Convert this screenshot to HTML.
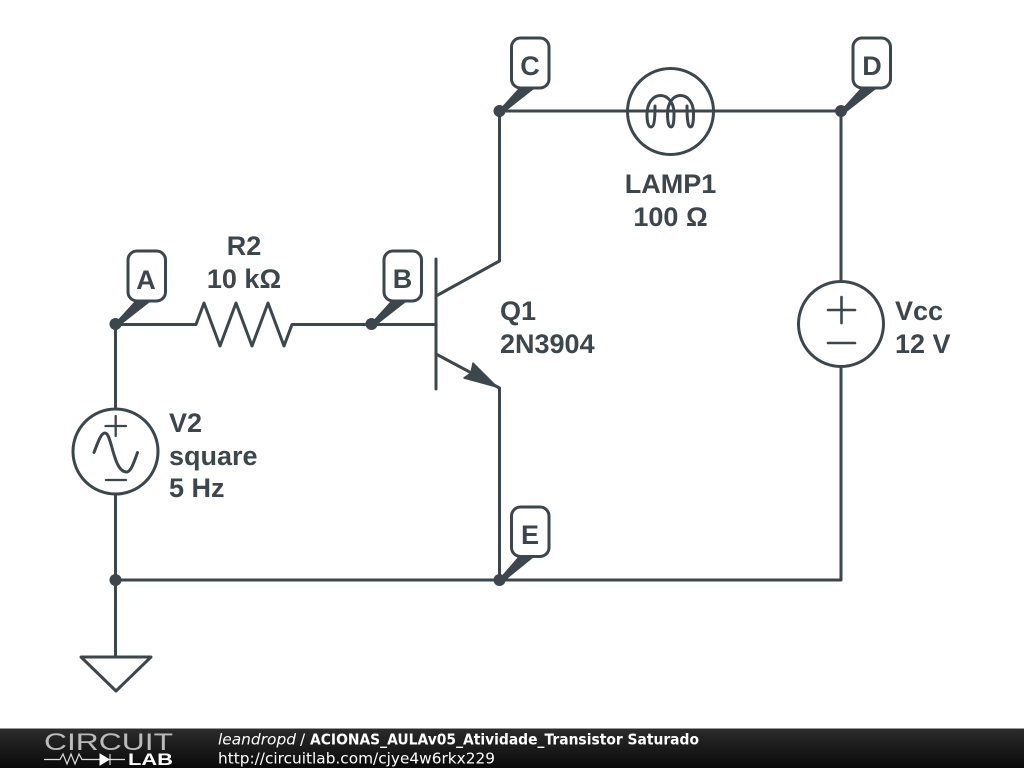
<!DOCTYPE html>
<html><head><meta charset="utf-8"><style>
html,body{margin:0;padding:0;background:#fff;width:1024px;height:768px;overflow:hidden}
svg{display:block}
.t{font-family:"Liberation Sans",Arial,sans-serif;font-weight:bold;font-size:27px;fill:#3c474d}
.f{font-family:"DejaVu Sans",sans-serif;font-size:15.3px;fill:#fff}
</style></head><body>
<svg width="1024" height="768" viewBox="0 0 1024 768" xmlns="http://www.w3.org/2000/svg">
<defs><linearGradient id="g" x1="0" y1="0" x2="0" y2="1"><stop offset="0" stop-color="#2b2b2b"/><stop offset="1" stop-color="#0a0a0a"/></linearGradient></defs>
<g fill="none" stroke="#3c474d" stroke-width="3" stroke-linejoin="round" stroke-linecap="round">
<path stroke-linecap="butt" d="M115.5 324.500H196L204 303L220 346L236 303L252 346L268 303L284 346L292 324.500H436"/>
<path stroke-linecap="butt" d="M115.500 324V409M115.500 495V657M115.500 580H841V367M841 281V111H714M627 111H499.500V261L436 296M436 354L499.500 388V580"/>
<path d="M436 259V389"/>
<circle cx="115.500" cy="451.500" r="42.500"/>
<path stroke-width="2.300" d="M105.500 426H126M115.700 416V436M106 480H126"/>
<path d="M94 452.500C98 442 101 433 105 433C112 433 113 472 126.500 472C131 472 134 462 137.500 452.500"/>
<circle cx="841" cy="324" r="42.500"/>
<path stroke-width="2.600" d="M828 310H855M841.500 297V323M828 343H855"/>
<circle cx="670.500" cy="111.500" r="43"/>
<path d="M627 111H714"/>
<path d="M655 106C655 120 654 127 651 127C648 127 647 121 647 114C647 103 653 95.500 660.500 95.500C668 95.500 674 103 674 113C674 121 673.500 127 671 127C668.500 127 667.500 121 667.500 114C667.500 103 673 95.500 680.500 95.500C688 95.500 693.500 103 693.500 113C693.500 121 693 127 690.500 127C688 127 687 120 687 106"/>
<path d="M81 657H151L116 691Z"/>
<rect x="128" y="251" width="37.500" height="50" rx="9"/>
<rect x="384" y="251" width="37.500" height="50" rx="9"/>
<rect x="511.500" y="38" width="37.500" height="50" rx="9"/>
<rect x="853" y="38" width="37.500" height="50" rx="9"/>
<rect x="511.500" y="507" width="37.500" height="49.500" rx="9"/>
</g>
<g fill="#3c474d">
<path d="M115 323L134 302H150L118 327Z"/><circle cx="115.500" cy="324" r="6"/>
<path d="M371 323L390 302H406L374 327Z"/><circle cx="371.500" cy="324" r="6"/>
<path d="M499 110L518 89H534L502 114Z"/><circle cx="499.500" cy="111" r="6"/>
<path d="M841 110L860 89H876L844 114Z"/><circle cx="841" cy="111" r="6"/>
<path d="M499 579L518 557H534L502 583Z"/><circle cx="499.500" cy="580" r="6"/>
<circle cx="115.500" cy="580" r="6"/>
<path d="M497 387L473 363L471 373L464 378Z" stroke="#3c474d" stroke-width="1.500" stroke-linejoin="round"/>
</g>
<g text-anchor="middle">
<text x="146" y="289" class="t">A</text>
<text x="402.500" y="288" class="t">B</text>
<text x="530" y="75" class="t">C</text>
<text x="872" y="75" class="t">D</text>
<text x="530" y="544" class="t">E</text>
<text x="244" y="255" class="t">R2</text>
<text x="244" y="288" class="t">10 kΩ</text>
<text x="670.500" y="193" class="t">LAMP1</text>
<text x="670.500" y="226" class="t">100 Ω</text>
</g>
<text x="500" y="320" class="t">Q1</text>
<text x="500" y="353" class="t">2N3904</text>
<text x="169" y="432" class="t">V2</text>
<text x="169" y="465" class="t">square</text>
<text x="169" y="497" class="t">5 Hz</text>
<text x="895" y="320" class="t">Vcc</text>
<text x="895" y="353" class="t">12 V</text>
<rect x="0" y="728" width="1024" height="1" fill="#999"/>
<rect x="0" y="729" width="1024" height="39" fill="url(#g)"/>
<text x="44" y="750" font-family="Liberation Sans,sans-serif" font-size="24" fill="#bbb" textLength="129" lengthAdjust="spacingAndGlyphs">CIRCUIT</text>
<text x="128" y="765" font-family="Liberation Sans,sans-serif" font-weight="bold" font-size="17" fill="#fff" textLength="45" lengthAdjust="spacingAndGlyphs">LAB</text>
<path d="M44 759.500H60L63 754L67 764L71 754L75 764L79 754L82 759.500H125" fill="none" stroke="#ddd" stroke-width="1.200"/>
<path d="M100 754L109 759.500L100 765ZM110 754V765" fill="#fff" stroke="#fff" stroke-width="1"/>
<text x="218" y="744.500" class="f" font-style="italic" textLength="78" lengthAdjust="spacingAndGlyphs">leandropd</text>
<text x="300" y="744.500" class="f">/</text>
<text x="310" y="744.500" class="f" font-weight="bold" textLength="389" lengthAdjust="spacingAndGlyphs">ACIONAS_AULAv05_Atividade_Transistor Saturado</text>
<text x="218" y="763.500" class="f" textLength="277" lengthAdjust="spacingAndGlyphs">http://circuitlab.com/cjye4w6rkx229</text>
</svg>
</body></html>
